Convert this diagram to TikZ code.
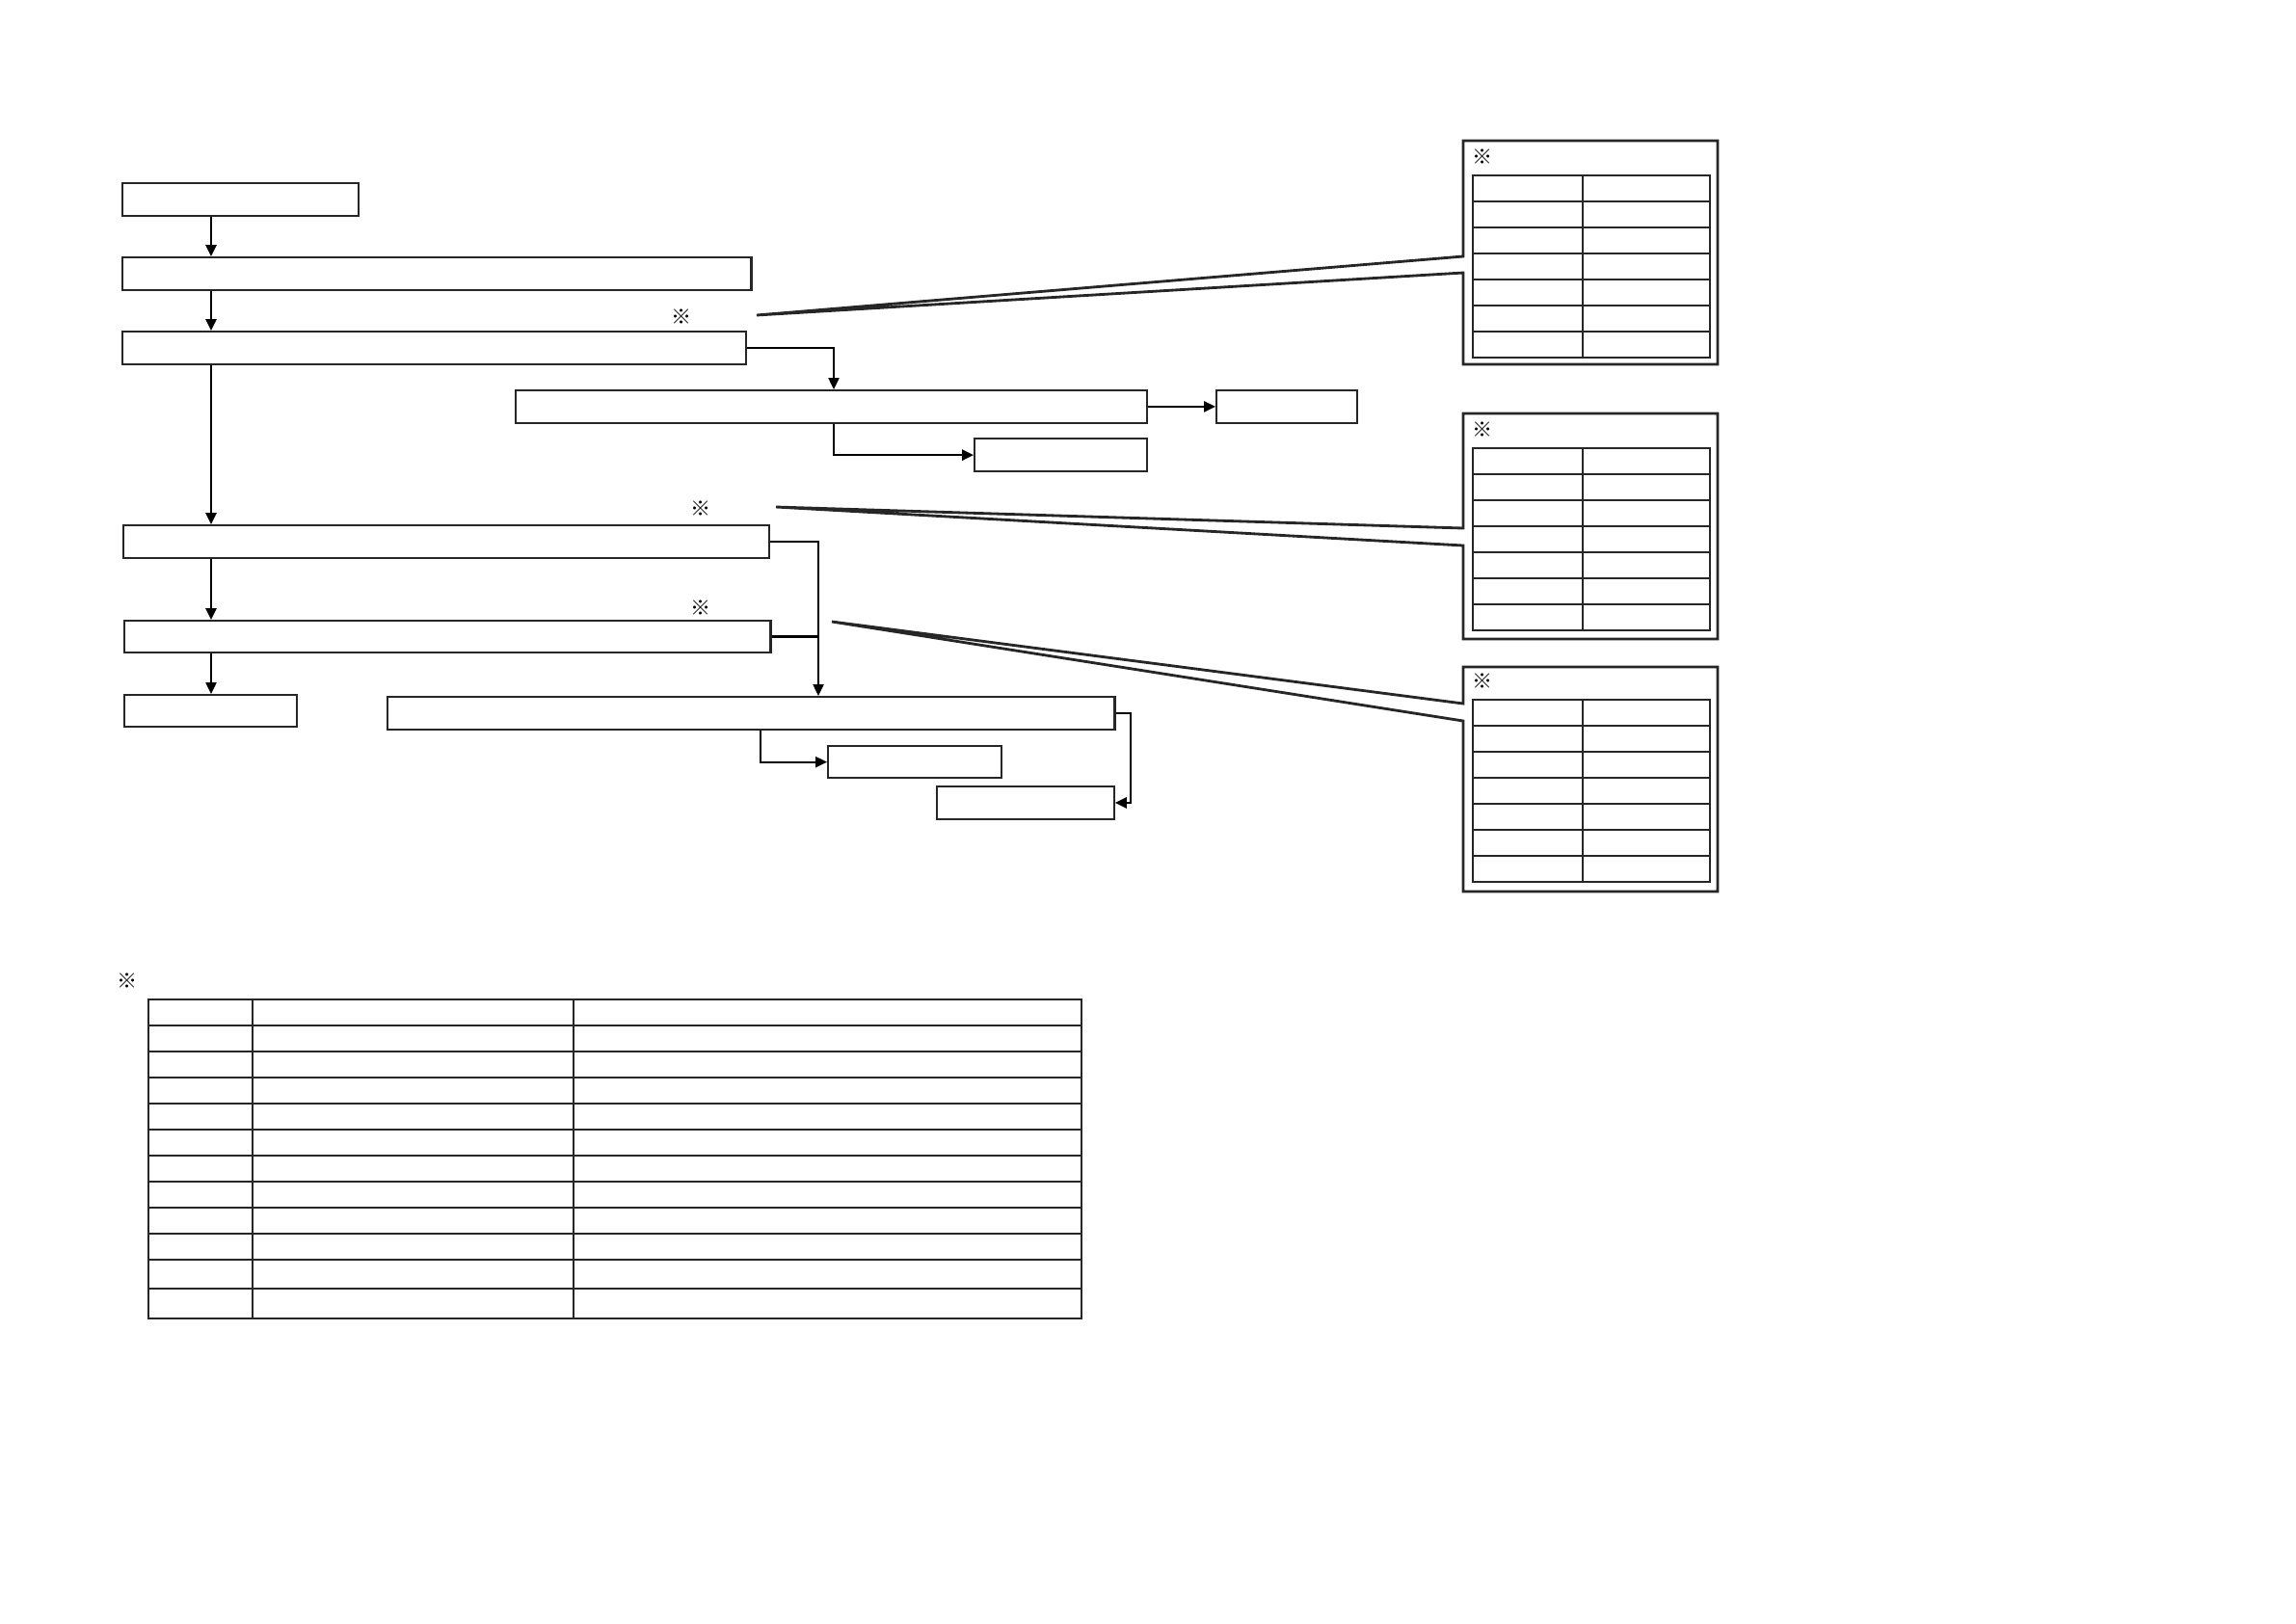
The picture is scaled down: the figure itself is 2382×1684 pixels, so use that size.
\documentclass[tikz,border=0pt]{standalone}
\usepackage{fontspec}
\newfontfamily\cjk{Noto Sans CJK JP}
\usepackage{tikz}
\usetikzlibrary{arrows.meta,positioning}

\begin{document}
\begin{tikzpicture}[x=0.01cm,y=-0.01cm,>={Triangle[length=3.4pt,width=3.2pt]},line width=0.5pt]
\tikzstyle{blk}=[rectangle,draw=black!85,inner sep=0pt,anchor=north west]
\tikzstyle{thk}=[line width=0.65pt]
\tikzstyle{refmark}=[inner sep=0pt,font=\cjk\fontsize{6pt}{7pt}\selectfont]
\tikzstyle{callout}=[draw=black!85,line width=0.8pt,fill=white,line join=miter]
\tikzstyle{grid}=[draw=black!85,line width=0.45pt]
\useasboundingbox (0,0) rectangle (2382,1684);
% main flow
\node[blk,thk,minimum width=2.45cm,minimum height=0.34cm] (start) at (126,189) {};
\node[blk,thk,minimum width=6.52cm,minimum height=0.34cm] (check) at (126,266) {};
\node[blk,minimum width=6.47cm,minimum height=0.34cm] (first) at (126,343) {};
\node[blk,minimum width=6.55cm,minimum height=0.34cm] (retry) at (534,404) {};
\node[blk,minimum width=1.46cm,minimum height=0.34cm] (done) at (1261,404) {};
\node[blk,thk,minimum width=1.79cm,minimum height=0.34cm] (skip) at (1010,454) {};
\node[blk,minimum width=6.70cm,minimum height=0.34cm] (second) at (127,544) {};
\node[blk,thk,minimum width=6.70cm,minimum height=0.33cm] (third) at (128,643) {};
\node[blk,thk,minimum width=1.79cm,minimum height=0.33cm] (stop) at (128,720) {};
\node[blk,thk,minimum width=7.54cm,minimum height=0.34cm] (merge) at (401,722) {};
\node[blk,thk,minimum width=1.80cm,minimum height=0.33cm] (pass) at (858,773) {};
\node[blk,minimum width=1.84cm,minimum height=0.34cm] (fail) at (971,815) {};
% marks
\node[refmark] (m1) at (707,329) {※};
\node[refmark] (m2) at (727,528) {※};
\node[refmark] (m3) at (727,631) {※};
\coordinate (trunk) at (219,0);
\coordinate (joinx) at (849,0);
\coordinate (dropx) at (865,0);
\coordinate (subx) at (789,0);
\coordinate (loopx) at (1173,0);
% connectors
\draw[->,line width=0.6pt] (start.south -| trunk) -- (check.north -| trunk);
\draw[->,line width=0.6pt] (check.south -| trunk) -- (first.north -| trunk);
\draw[->,line width=0.6pt] (first.south -| trunk) -- (second.north -| trunk);
\draw[->,line width=0.6pt] (second.south -| trunk) -- (third.north -| trunk);
\draw[->,line width=0.4pt] (third.south -| trunk) -- (stop.north -| trunk);
\draw[->,line width=0.4pt] (first.east) -| (retry.north -| dropx);
\draw[->,line width=0.4pt] (retry.east) -- (done.west);
\draw[->,line width=0.6pt] (retry.south -| dropx) |- (skip.west);
\draw[->,line width=0.4pt] (second.east) -| (merge.north -| joinx);
\draw[line width=0.7pt] (third.east) -- (third.east -| joinx);
\draw[->,line width=0.5pt] (merge.south -| subx) |- (pass.west);
\draw[->,line width=0.6pt] (merge.east) -- (merge.east -| loopx) |- (fail.east);
% callouts
\coordinate (tip1) at (785,327);
\coordinate (tip2) at (805,526);
\coordinate (tip3) at (863,645);
\draw[callout] (tip1) -- (1518,266) |- (1782,146) |- (1518,378) -- (1518,283) -- cycle;
\draw[callout] (tip2) -- (1518,548) |- (1782,429) |- (1518,663) -- (1518,566) -- cycle;
\draw[callout] (tip3) -- (1518,730) |- (1782,692) |- (1518,925) -- (1518,748) -- cycle;
\foreach \top/\nm in {182/n1,465/n2,726/n3}{
  \node[refmark] (\nm) at (1538,\top-19) {※};
  \draw[grid] (1528,\top) rectangle (1774,\top+189);
  \draw[grid] (1642,\top) -- (1642,\top+189);
  \foreach \r in {1,...,6}
    \draw[grid] (1528,\top+27*\r) -- (1774,\top+27*\r);
}
% bottom table
\node[refmark] (m4) at (132,1018) {※};
\draw[grid] (154,1037) rectangle (1122,1368);
\draw[grid] (262,1037) -- (262,1368);
\draw[grid] (595,1037) -- (595,1368);
\foreach \y in {1064,1091,1118,1145,1172,1199,1226,1253,1280,1307,1337}
  \draw[grid] (154,\y) -- (1122,\y);
\end{tikzpicture}
\end{document}
